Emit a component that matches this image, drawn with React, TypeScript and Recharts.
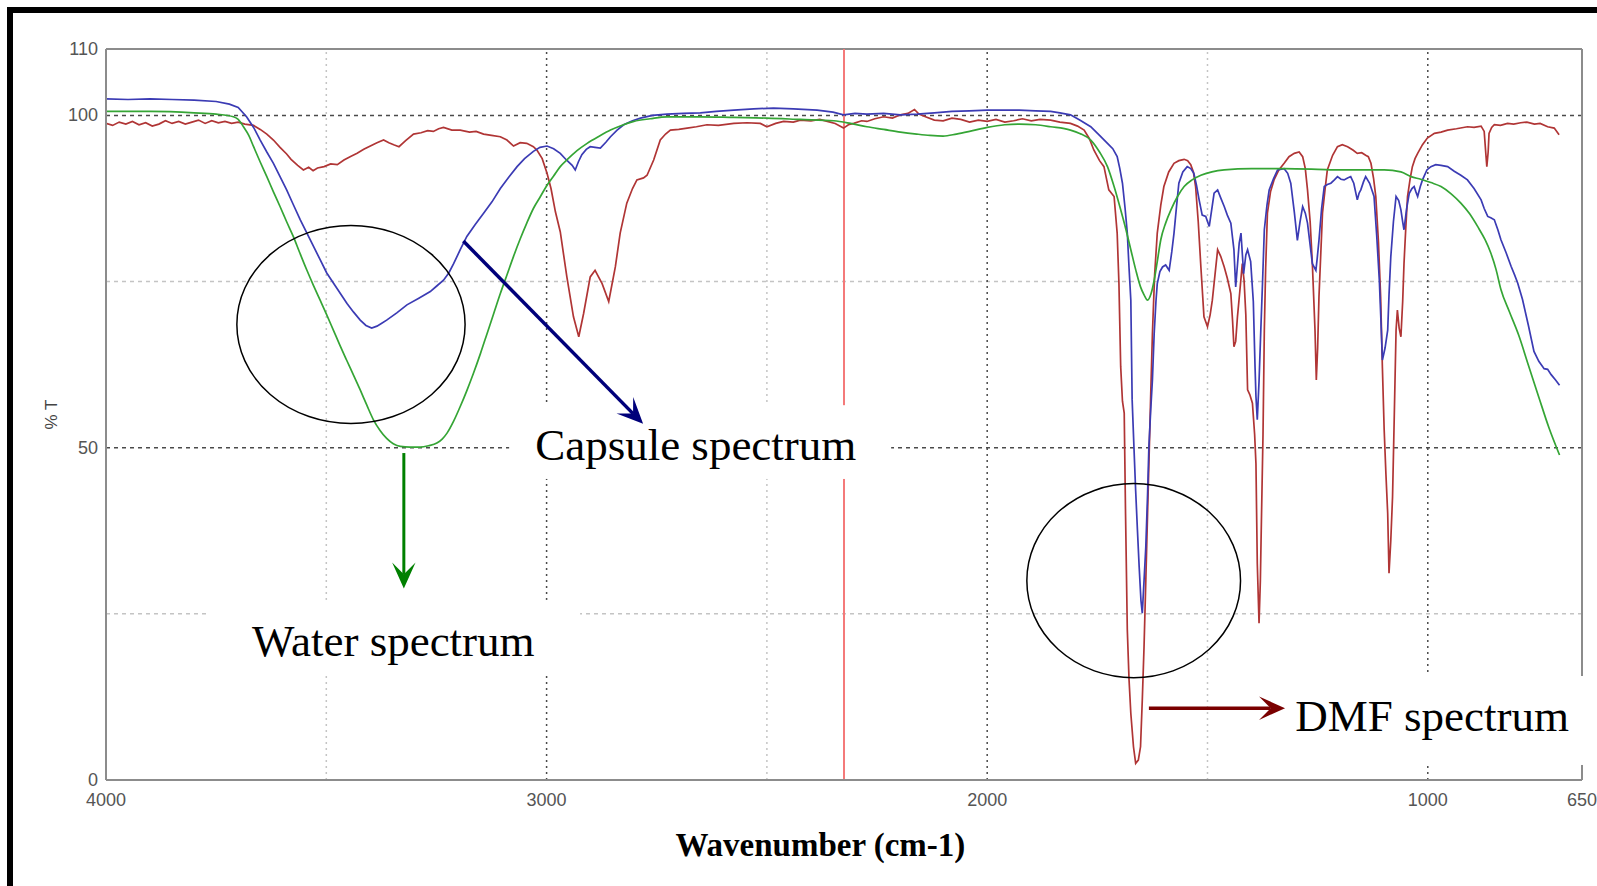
import React from "react"
import { LineChart, Line, XAxis, YAxis, ReferenceLine, ReferenceArea } from "recharts"

// [wavenumber (cm-1), %T]
const capsule: [number, number][] = [
  [4000, 102.5], [3950, 102.4], [3900, 102.5], [3850, 102.4], [3800, 102.3], [3750, 102.1], [3720, 101.7],
  [3700, 101.2], [3681, 99.8], [3665, 98.2], [3650, 96.3], [3635, 94.5], [3620, 92.8], [3605, 90.8],
  [3590, 88.8], [3575, 86.6], [3559, 84.3], [3544, 82.3], [3529, 80.3], [3514, 78.3], [3499, 76.3],
  [3476, 74.0], [3453, 71.7], [3438, 70.4], [3423, 69.2], [3410, 68.4], [3397, 68.0], [3385, 68.3],
  [3375, 68.7], [3363, 69.2], [3340, 70.3], [3317, 71.5], [3290, 72.5], [3264, 73.5], [3250, 74.3],
  [3234, 75.2], [3222, 76.3], [3211, 77.7], [3196, 79.8], [3181, 81.8], [3162, 83.6], [3143, 85.3],
  [3124, 87.0], [3105, 89.0], [3086, 90.7], [3067, 92.3], [3050, 93.5], [3030, 94.6], [3015, 95.2],
  [2999, 95.4], [2984, 95.0], [2969, 94.3], [2955, 93.3], [2942, 92.5], [2935, 91.8], [2928, 93.0],
  [2920, 94.1], [2910, 94.9], [2901, 95.3], [2890, 95.2], [2878, 95.1], [2865, 96.0], [2855, 96.8],
  [2840, 97.8], [2825, 98.6], [2805, 99.2], [2787, 99.6], [2760, 100.0], [2727, 100.2], [2690, 100.3],
  [2651, 100.4], [2615, 100.6], [2575, 100.8], [2530, 101.0], [2485, 101.1], [2440, 101.0], [2386, 100.8],
  [2350, 100.5], [2326, 100.1], [2300, 100.3], [2273, 100.2], [2235, 100.3], [2197, 100.1], [2159, 100.2],
  [2120, 100.4], [2080, 100.6], [2040, 100.7], [2000, 100.8], [1960, 100.8], [1927, 100.8], [1890, 100.7],
  [1856, 100.6], [1835, 100.4], [1811, 100.1], [1790, 99.3], [1765, 98.3], [1745, 97.0], [1727, 95.8],
  [1715, 95.0], [1705, 93.8], [1699, 92.0], [1693, 89.8], [1687, 86.0], [1682, 82.3], [1678, 77.0],
  [1674, 72.2], [1671, 57.2], [1667, 50.2], [1663, 43.5], [1659, 37.6], [1655, 32.0], [1651, 27.0],
  [1648, 25.1], [1644, 30.0], [1640, 35.1], [1636, 43.0], [1633, 50.2], [1629, 55.5], [1625, 60.2],
  [1621, 67.2], [1617, 72.0], [1614, 74.7], [1608, 76.5], [1602, 77.2], [1595, 77.5], [1587, 76.7],
  [1581, 79.5], [1576, 82.3], [1570, 86.5], [1565, 89.8], [1556, 91.5], [1546, 92.3], [1538, 92.0],
  [1531, 91.3], [1525, 89.5], [1519, 87.3], [1512, 85.0], [1504, 84.8], [1496, 83.3], [1490, 86.0],
  [1485, 88.3], [1477, 88.8], [1470, 87.6], [1462, 86.3], [1455, 85.0], [1447, 83.8], [1443, 81.5],
  [1440, 79.8], [1436, 74.2], [1432, 77.5], [1428, 80.8], [1424, 82.3], [1418, 76.2], [1413, 79.0],
  [1409, 79.8], [1402, 78.0], [1396, 72.0], [1392, 62.0], [1390, 57.7], [1387, 54.2], [1383, 60.0],
  [1379, 67.7], [1375, 75.0], [1371, 82.8], [1365, 86.5], [1360, 88.8], [1350, 90.5], [1341, 91.8],
  [1326, 92.0], [1318, 91.3], [1311, 89.8], [1303, 85.5], [1296, 81.2], [1290, 84.0], [1284, 86.3],
  [1278, 85.3], [1273, 83.8], [1267, 80.5], [1262, 77.7], [1254, 76.7], [1251, 78.5], [1247, 81.2],
  [1241, 86.0], [1235, 89.3], [1228, 89.6], [1220, 89.8], [1212, 90.3], [1205, 90.8], [1197, 90.4],
  [1190, 90.3], [1182, 90.6], [1175, 90.8], [1168, 89.8], [1160, 87.3], [1156, 88.3], [1152, 88.8],
  [1146, 90.0], [1141, 90.8], [1132, 89.8], [1122, 87.8], [1116, 82.0], [1110, 75.2], [1106, 68.5],
  [1103, 63.2], [1097, 65.0], [1091, 67.7], [1088, 73.0], [1084, 78.7], [1078, 84.0], [1072, 87.8],
  [1066, 87.2], [1061, 85.8], [1057, 84.0], [1054, 82.8], [1048, 86.0], [1042, 88.3], [1036, 89.0],
  [1031, 89.3], [1027, 88.5], [1023, 87.8], [1017, 89.3], [1012, 90.3], [1002, 91.8], [993, 92.3],
  [982, 92.6], [970, 92.5], [955, 92.3], [940, 91.6], [925, 91.0], [910, 90.3], [895, 89.0], [879, 87.3],
  [872, 86.0], [864, 84.8], [857, 84.6], [849, 84.3], [841, 82.8], [834, 81.3], [822, 79.3], [811, 77.3],
  [803, 76.0], [796, 74.8], [785, 72.3], [772, 68.5], [759, 64.5], [748, 63.0], [736, 61.9], [728, 61.8],
  [720, 61.0], [710, 60.2], [701, 59.4],
]

const water: [number, number][] = [
  [4000, 100.6], [3900, 100.6], [3800, 100.4], [3750, 100.2], [3711, 99.8], [3700, 99.4], [3688, 98.3],
  [3676, 97.0], [3665, 95.3], [3650, 93.0], [3635, 90.8], [3620, 88.5], [3605, 86.3], [3590, 84.0],
  [3575, 81.8], [3560, 79.3], [3544, 76.7], [3529, 74.4], [3514, 72.2], [3499, 70.0], [3484, 67.7],
  [3469, 65.4], [3454, 63.2], [3438, 60.9], [3423, 58.7], [3408, 56.4], [3393, 54.2], [3378, 52.6],
  [3363, 51.4], [3348, 50.6], [3332, 50.2], [3310, 50.1], [3287, 50.1], [3268, 50.3], [3249, 50.7],
  [3237, 51.3], [3226, 52.2], [3211, 54.0], [3196, 56.2], [3181, 58.6], [3166, 61.2], [3150, 64.2],
  [3135, 67.2], [3120, 70.2], [3105, 73.2], [3090, 76.0], [3075, 78.8], [3060, 81.4], [3045, 83.8],
  [3030, 86.0], [3014, 87.8], [2999, 89.5], [2984, 90.9], [2969, 92.3], [2954, 93.3], [2931, 94.7],
  [2908, 95.8], [2880, 96.9], [2855, 97.8], [2830, 98.5], [2802, 99.1], [2765, 99.5], [2727, 99.8],
  [2650, 99.8], [2575, 99.7], [2500, 99.6], [2424, 99.4], [2348, 99.2], [2310, 98.8], [2273, 98.3],
  [2235, 97.9], [2197, 97.5], [2160, 97.2], [2130, 97.0], [2100, 96.9], [2070, 97.2], [2040, 97.6],
  [2000, 98.2], [1960, 98.6], [1927, 98.7], [1890, 98.6], [1856, 98.3], [1811, 97.8], [1790, 97.3],
  [1765, 96.3], [1745, 94.5], [1727, 92.3], [1712, 89.3], [1697, 85.8], [1685, 82.8], [1674, 79.8],
  [1663, 76.8], [1652, 74.2], [1644, 73.0], [1636, 72.2], [1628, 73.2], [1621, 75.2], [1614, 78.0],
  [1606, 81.3], [1595, 83.8], [1583, 85.8], [1568, 87.8], [1553, 89.3], [1535, 90.3], [1515, 91.0],
  [1490, 91.5], [1462, 91.8], [1400, 92.0], [1326, 92.0], [1250, 91.9], [1200, 91.8], [1150, 91.8],
  [1099, 91.8], [1061, 91.5], [1038, 90.8], [1016, 90.4], [993, 89.9], [970, 89.3], [947, 88.2],
  [925, 86.8], [905, 85.2], [887, 83.3], [870, 81.3], [857, 79.3], [845, 76.8], [834, 73.8], [815, 70.5],
  [794, 67.0], [772, 62.5], [748, 57.6], [725, 53.0], [701, 48.9],
]

const dmf: [number, number][] = [
  [4000, 98.8], [3985, 98.5], [3970, 99.0], [3955, 98.7], [3940, 99.1], [3925, 98.6], [3910, 98.9],
  [3895, 98.4], [3880, 98.7], [3865, 99.2], [3850, 98.8], [3835, 99.1], [3820, 98.7], [3805, 99.0],
  [3790, 99.3], [3775, 98.8], [3760, 99.2], [3745, 98.9], [3730, 99.1], [3715, 98.8], [3700, 99.0],
  [3685, 98.7], [3665, 98.5], [3650, 97.9], [3635, 97.2], [3620, 96.3], [3605, 95.2], [3590, 94.2],
  [3580, 93.4], [3565, 92.5], [3552, 91.8], [3540, 92.2], [3530, 91.7], [3520, 92.1], [3505, 92.3],
  [3490, 92.7], [3475, 92.6], [3460, 93.3], [3446, 93.8], [3430, 94.3], [3415, 94.9], [3400, 95.4],
  [3385, 95.9], [3370, 96.3], [3358, 95.9], [3347, 95.6], [3335, 95.3], [3320, 96.2], [3302, 97.2],
  [3285, 97.4], [3270, 97.7], [3257, 97.6], [3245, 98.0], [3234, 98.2], [3215, 97.8], [3196, 97.8],
  [3175, 97.5], [3160, 97.6], [3143, 97.2], [3125, 97.0], [3105, 96.8], [3090, 96.3], [3075, 95.4],
  [3060, 95.9], [3045, 95.8], [3030, 95.3], [3022, 94.8], [3010, 93.5], [2999, 91.3], [2990, 89.0],
  [2980, 85.5], [2969, 82.5], [2954, 75.7], [2939, 69.7], [2927, 66.7], [2916, 70.2], [2901, 75.7],
  [2890, 76.7], [2874, 74.7], [2859, 72.0], [2844, 77.2], [2833, 82.3], [2818, 86.8], [2805, 89.0],
  [2795, 90.3], [2780, 90.6], [2772, 91.0], [2757, 93.3], [2742, 96.3], [2730, 97.2], [2719, 97.8],
  [2700, 97.9], [2681, 98.1], [2660, 98.3], [2636, 98.6], [2610, 98.5], [2575, 98.8], [2545, 98.9],
  [2515, 98.8], [2500, 98.3], [2480, 98.8], [2462, 99.1], [2440, 99.0], [2424, 99.3], [2400, 99.2],
  [2380, 99.4], [2363, 99.1], [2345, 98.8], [2326, 98.1], [2315, 98.6], [2303, 98.8], [2285, 99.2],
  [2273, 99.1], [2255, 99.5], [2235, 99.8], [2215, 99.6], [2197, 100.1], [2180, 100.3], [2165, 100.9],
  [2155, 100.2], [2140, 99.8], [2120, 99.3], [2100, 99.2], [2080, 99.6], [2060, 99.4], [2040, 99.0],
  [2020, 99.3], [2000, 99.1], [1980, 99.4], [1960, 99.0], [1940, 99.2], [1920, 99.5], [1900, 99.2],
  [1880, 99.4], [1856, 99.3], [1835, 99.0], [1811, 98.8], [1795, 98.4], [1780, 97.8], [1768, 96.5],
  [1758, 94.8], [1745, 93.2], [1735, 92.3], [1724, 88.8], [1712, 87.8], [1705, 82.3], [1701, 74.7],
  [1697, 62.2], [1693, 57.0], [1689, 55.2], [1686, 40.1], [1682, 22.6], [1678, 15.0], [1674, 10.0],
  [1668, 5.0], [1663, 2.5], [1657, 3.0], [1652, 5.0], [1648, 12.0], [1644, 20.1], [1640, 30.0],
  [1636, 40.1], [1632, 50.0], [1629, 57.7], [1625, 67.2], [1620, 76.0], [1614, 82.3], [1606, 86.5],
  [1599, 89.3], [1588, 91.5], [1576, 92.8], [1565, 93.2], [1553, 93.4], [1545, 93.2], [1538, 92.6],
  [1532, 91.5], [1527, 89.3], [1521, 84.0], [1515, 77.2], [1508, 69.7], [1500, 68.2], [1494, 70.0],
  [1489, 72.2], [1483, 76.0], [1477, 79.8], [1470, 78.8], [1462, 77.2], [1455, 75.5], [1447, 73.2],
  [1443, 69.0], [1440, 65.2], [1436, 66.0], [1432, 69.7], [1426, 74.0], [1421, 77.7], [1417, 75.2],
  [1413, 70.0], [1409, 58.7], [1404, 58.0], [1398, 56.7], [1393, 52.0], [1390, 47.6], [1387, 32.6],
  [1383, 23.6], [1380, 30.0], [1378, 37.6], [1374, 52.0], [1371, 67.7], [1368, 77.0], [1364, 85.3],
  [1357, 88.5], [1349, 90.3], [1338, 91.8], [1326, 92.8], [1315, 93.8], [1303, 94.3], [1292, 94.5],
  [1284, 93.8], [1278, 92.0], [1273, 88.8], [1267, 84.0], [1262, 77.7], [1256, 67.7], [1253, 60.2],
  [1250, 65.0], [1247, 72.7], [1243, 79.0], [1239, 85.3], [1233, 89.0], [1228, 91.8], [1216, 94.0],
  [1205, 95.3], [1194, 95.6], [1182, 95.3], [1170, 94.8], [1160, 94.3], [1150, 94.4], [1141, 94.0],
  [1135, 93.8], [1129, 92.8], [1123, 90.5], [1118, 87.8], [1112, 81.0], [1107, 72.7], [1103, 62.0],
  [1099, 52.7], [1095, 46.0], [1091, 40.1], [1088, 31.1], [1084, 36.0], [1080, 42.6], [1076, 55.0],
  [1072, 67.7], [1069, 70.7], [1065, 68.0], [1061, 66.7], [1057, 72.0], [1054, 77.7], [1050, 83.0],
  [1046, 87.8], [1040, 90.5], [1035, 92.3], [1029, 93.5], [1023, 94.3], [1012, 95.6], [1001, 96.6],
  [985, 97.3], [970, 97.5], [955, 97.8], [935, 98.0], [910, 98.3], [895, 98.2], [879, 98.4], [872, 97.6],
  [868, 94.0], [866, 92.3], [863, 94.5], [861, 97.3], [855, 98.2], [849, 98.6], [835, 98.5], [819, 98.8],
  [805, 98.7], [789, 98.9], [775, 99.0], [758, 98.7], [745, 98.8], [728, 98.3], [713, 98.1], [702, 97.1],
]

const xTicks = [4000, 3000, 2000, 1000, 650]
const yTicks = [0, 50, 100, 110]
const darkGridX = [3000, 2000, 1000]
const lightGridX = [3500, 2500, 1500]
const darkGridY = [100, 50]
const lightGridY = [75, 25]
const co2Line = 2325

const toPoints = (rows: [number, number][]) => rows.map(([w, t]) => ({ w, t }))

const serif = '"Liberation Serif", "Times New Roman", serif'
const sans = '"Liberation Sans", Arial, sans-serif'

function arrowShape(color: string, width: number, head: number) {
  return (p: any) => {
    const { x1, y1, x2, y2 } = p
    const ang = Math.atan2(y2 - y1, x2 - x1)
    const ux = Math.cos(ang)
    const uy = Math.sin(ang)
    const bx = x2 - ux * head
    const by = y2 - uy * head
    const nx = x2 - ux * head * 0.55
    const ny = y2 - uy * head * 0.55
    const half = head * 0.45
    const pts = [
      [x2, y2],
      [bx - uy * half, by + ux * half],
      [nx, ny],
      [bx + uy * half, by - ux * half],
    ]
    return (
      <g>
        <line x1={x1} y1={y1} x2={nx} y2={ny} stroke={color} strokeWidth={width} />
        <polygon points={pts.map((q) => q.join(",")).join(" ")} fill={color} />
      </g>
    )
  }
}

const ellipseShape = (p: any) => (
  <ellipse
    cx={p.x + p.width / 2}
    cy={p.y + p.height / 2}
    rx={Math.abs(p.width) / 2}
    ry={Math.abs(p.height) / 2}
    fill="none"
    stroke="#000"
    strokeWidth={1.5}
  />
)

function textBox(text: string, dx: number, dy: number) {
  return (p: any) => (
    <g>
      <rect x={p.x} y={p.y} width={p.width} height={p.height} fill="#fff" />
      <text x={p.x + dx} y={p.y + dy} fontFamily={serif} fontSize={45} fill="#000">
        {text}
      </text>
    </g>
  )
}

const XTick = (p: any) => (
  <text x={p.x} y={p.y + 20} textAnchor="middle" dominantBaseline="central" fontFamily={sans} fontSize={18} fill="#555">
    {p.payload.value}
  </text>
)

const YTick = (p: any) => (
  <text x={p.x - 8} y={p.y} textAnchor="end" dominantBaseline="central" fontFamily={sans} fontSize={18} fill="#555">
    {p.payload.value}
  </text>
)

export default function App() {
  const axisStroke = { stroke: "#8c8c8c", strokeWidth: 2 }
  return (
    <div style={{ position: "absolute", left: 0, top: 0, width: 1597, height: 886, background: "#fff" }}>
      <LineChart width={1597} height={886} margin={{ top: 49, right: 15, bottom: 76, left: 46 }}>
        <XAxis
          dataKey="w"
          type="number"
          domain={[650, 4000]}
          reversed
          allowDataOverflow
          ticks={xTicks}
          interval={0}
          height={30}
          tickSize={0}
          tickMargin={0}
          tickLine={false}
          axisLine={axisStroke}
          tick={XTick}
          label={{
            content: (p: any) => {
              const vb = p.viewBox || { x: 106, y: 780, width: 1476 }
              return (
                <text x={vb.x + vb.width * 0.484} y={vb.y + 76} textAnchor="middle" fontFamily={serif} fontWeight="bold" fontSize={33} fill="#000">
                  Wavenumber (cm-1)
                </text>
              )
            },
          }}
        />
        <YAxis
          type="number"
          domain={[0, 110]}
          ticks={yTicks}
          interval={0}
          width={60}
          tickSize={0}
          tickMargin={0}
          tickLine={false}
          axisLine={axisStroke}
          tick={YTick}
          label={{
            content: (p: any) => {
              const vb = p.viewBox || { x: 46, y: 49, height: 731 }
              const cx = vb.x + 5
              const cy = vb.y + vb.height / 2
              return (
                <text x={cx} y={cy} transform={`rotate(-90, ${cx}, ${cy})`} textAnchor="middle" dominantBaseline="central" fontFamily={sans} fontSize={17} fill="#444">
                  % T
                </text>
              )
            },
          }}
        />

        {lightGridY.map((v) => (
          <ReferenceLine key={`ly${v}`} y={v} stroke="#c4c4c4" strokeWidth={1.5} strokeDasharray="4 4" zIndex={-100} />
        ))}
        {lightGridX.map((v) => (
          <ReferenceLine key={`lx${v}`} x={v} stroke="#c4c4c4" strokeWidth={1.5} strokeDasharray="2 4" zIndex={-100} />
        ))}
        {darkGridY.map((v) => (
          <ReferenceLine key={`dy${v}`} y={v} stroke="#4a4a4a" strokeWidth={1.5} strokeDasharray="4 4" zIndex={-90} />
        ))}
        {darkGridX.map((v) => (
          <ReferenceLine key={`dx${v}`} x={v} stroke="#4a4a4a" strokeWidth={1.5} strokeDasharray="2 4" zIndex={-90} />
        ))}
        <ReferenceLine y={110} stroke="#8c8c8c" strokeWidth={2} zIndex={-80} />
        <ReferenceLine x={650} stroke="#8c8c8c" strokeWidth={2} zIndex={-80} />
        <ReferenceLine x={co2Line} stroke="#f47a7a" strokeWidth={2} zIndex={-70} />

        <Line data={toPoints(dmf)} dataKey="t" type="linear" stroke="#b03535" strokeWidth={1.7} dot={false} isAnimationActive={false} />
        <Line data={toPoints(capsule)} dataKey="t" type="linear" stroke="#3b3bb4" strokeWidth={1.7} dot={false} isAnimationActive={false} />
        <Line data={toPoints(water)} dataKey="t" type="monotone" stroke="#35a535" strokeWidth={1.7} dot={false} isAnimationActive={false} />

        <ReferenceArea x1={3085} x2={2218} y1={45.3} y2={56.4} ifOverflow="visible" shape={textBox("Capsule spectrum", 26, 55)} zIndex={1500} />
        <ReferenceArea x1={3766} x2={2924} y1={15.65} y2={27.1} ifOverflow="visible" shape={textBox("Water spectrum", 43, 56)} zIndex={1500} />
        <ReferenceArea x1={1369} x2={610} y1={2.26} y2={15.65} ifOverflow="visible" shape={textBox("DMF spectrum", 30, 55)} zIndex={1500} />

        <ReferenceArea x1={3703} x2={3185} y1={53.65} y2={83.45} ifOverflow="visible" shape={ellipseShape} zIndex={1600} />
        <ReferenceArea x1={1910} x2={1425} y1={15.4} y2={44.6} ifOverflow="visible" shape={ellipseShape} zIndex={1600} />

        <ReferenceLine segment={[{ x: 3189, y: 81.1 }, { x: 2781, y: 53.6 }]} ifOverflow="visible" shape={arrowShape("#00007a", 3.5, 26)} zIndex={1700} />
        <ReferenceLine segment={[{ x: 3324, y: 49.2 }, { x: 3324, y: 28.8 }]} ifOverflow="visible" shape={arrowShape("#008000", 3, 26)} zIndex={1700} />
        <ReferenceLine segment={[{ x: 1633, y: 10.8 }, { x: 1324, y: 10.8 }]} ifOverflow="visible" shape={arrowShape("#7a0000", 3.5, 26)} zIndex={1700} />
      </LineChart>
      <div
        style={{
          position: "absolute",
          left: 7,
          top: 7,
          right: 0,
          bottom: 0,
          borderTop: "6px solid #000",
          borderLeft: "6px solid #000",
          pointerEvents: "none",
        }}
      />
    </div>
  )
}
